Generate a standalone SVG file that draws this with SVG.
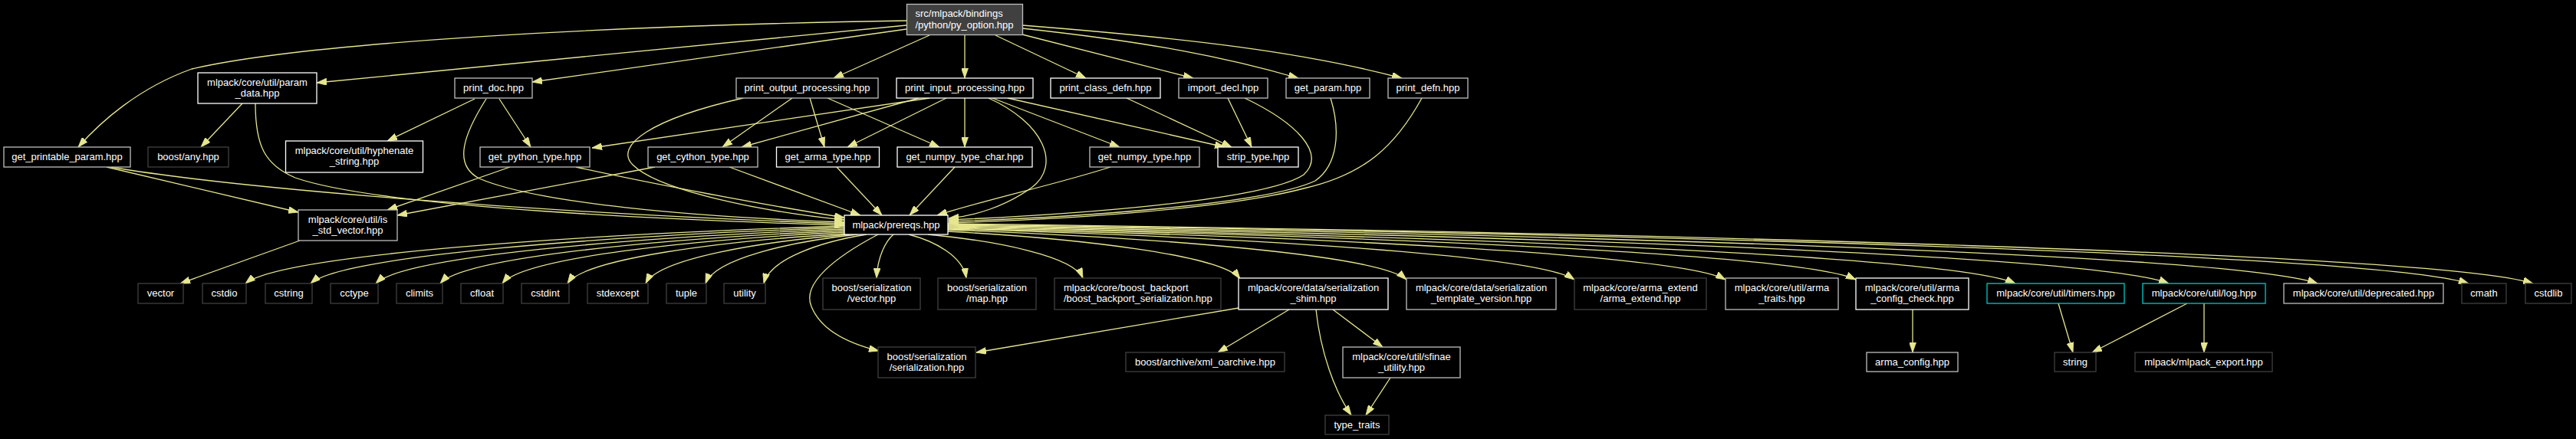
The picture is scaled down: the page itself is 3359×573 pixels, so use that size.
<svg xmlns="http://www.w3.org/2000/svg" width="3359" height="573" viewBox="0 0 3359 573">
<style>
.n rect{fill:#000;stroke-width:1.3}
.w rect{stroke:#ffffff}
.g rect{stroke:#bfbfbf}
.d rect{stroke:#404040}
.c rect{stroke:#00c8c8}
.r rect{fill:#404040;stroke:#bfbfbf}
text{font-family:"Liberation Sans",Arial,Helvetica,sans-serif;font-size:13px;fill:#ffffff;text-anchor:middle}
text.l{text-anchor:start}
.e path{fill:none;stroke:#e6e68f;stroke-width:1.3;marker-end:url(#ah)}
</style>
<defs>
<marker id="ah" markerWidth="13" markerHeight="9" refX="13" refY="4.5" orient="auto" markerUnits="userSpaceOnUse">
<path d="M0,0 L13,4.5 L0,9 z" fill="#e6e68f" stroke="#e6e68f" stroke-width="0.8"/>
</marker>
</defs>
<rect x="0" y="0" width="3359" height="573" fill="#000"/>

<g id="edges" class="e">
<path d="M1182,27 C 800,33 400,55 250,90 C 180,115 130,160 102,192"/>
<path d="M1182,33 L413,108"/>
<path d="M1182,38 L694,107"/>
<path d="M1212,46 L1087,102"/>
<path d="M1258,46 L1258,102"/>
<path d="M1298,46 L1416,102"/>
<path d="M1333,45 L1556,102"/>
<path d="M1333,37 C 1500,55 1600,75 1693,102"/>
<path d="M1333,33 C 1550,50 1700,68 1828,102"/>
<path d="M316,135 L262,192"/>
<path d="M333,135 C 333,190 345,215 385,232 C 500,272 900,288 1101,294"/>
<path d="M139,218 L389,277"/>
<path d="M145,218 C 300,245 700,278 1101,292"/>
<path d="M619,129 L505,184"/>
<path d="M651,129 L692,192"/>
<path d="M634,129 C 605,175 590,215 625,233 C 700,265 900,283 1101,290"/>
<path d="M969,128 C 850,155 800,190 825,215 C 860,250 1000,277 1101,287"/>
<path d="M1033,128 L942,192"/>
<path d="M1056,128 L1075,192"/>
<path d="M1079,128 L1225,192"/>
<path d="M1212,128 L772,193"/>
<path d="M1198,128 L967,192"/>
<path d="M1234,128 L1105,192"/>
<path d="M1258,128 L1258,192"/>
<path d="M1289,128 C 1360,160 1385,215 1345,245 C 1310,270 1270,282 1237,285"/>
<path d="M1294,128 L1460,192"/>
<path d="M1314,128 L1597,192"/>
<path d="M1469,128 L1606,192"/>
<path d="M1601,128 L1632,192"/>
<path d="M1623,128 C 1690,160 1730,200 1700,228 C 1650,262 1400,280 1237,287"/>
<path d="M1735,128 C 1748,170 1745,215 1715,236 C 1650,267 1400,284 1237,289"/>
<path d="M1854,128 C 1820,190 1780,228 1700,246 C 1600,272 1400,286 1237,291"/>
<path d="M665,218 L505,274"/>
<path d="M751,218 C 850,240 1000,268 1101,284"/>
<path d="M854,218 L518,281"/>
<path d="M951,218 L1122,281"/>
<path d="M1091,218 L1150,281"/>
<path d="M1245,218 L1186,281"/>
<path d="M1448,218 C 1380,240 1280,262 1222,281"/>
<path d="M391,314 L235,370"/>
<path d="M1101,295 C 749.5,306.3 366.9,332.5 320,370"/>
<path d="M1101,297 C 787.8,308 446.8,333.5 405,370"/>
<path d="M1101,299 C 826,309.7 526.7,334.5 490,370"/>
<path d="M1101,301 C 863.9,311.4 605.6,335.5 574,370"/>
<path d="M1101,303 C 900.3,313 681.8,336.5 655,370"/>
<path d="M1102,305 C 939.1,314.8 761.7,337.5 740,370"/>
<path d="M1108,306 C 988.3,315.6 858,338 842,370"/>
<path d="M1118,306 C 1028.9,315.6 931.9,338 920,370"/>
<path d="M1130,306 C 1069.7,315.6 1004,338 996,370"/>
<path d="M1145,306 C 1090,335 1045,370 1058,400 C 1070,430 1105,448 1146,458"/>
<path d="M1165,306 C 1155.1,314.6 1144.3,334.5 1143,363"/>
<path d="M1185,306 C 1218.8,314.6 1255.5,334.5 1260,363"/>
<path d="M1210,306 C 1300.9,314.6 1399.9,334.5 1412,363"/>
<path d="M1236,302 C 1407.5,311.3 1594,333 1617,364"/>
<path d="M1236,300 C 1505.1,309.8 1798.1,332.5 1834,365"/>
<path d="M1236,299 C 1603.7,308.9 2004,332 2053,365"/>
<path d="M1236,298 C 1692.3,308 2189.2,331.5 2250,365"/>
<path d="M1236,297 C 1768.8,307.2 2349,331 2420,365"/>
<path d="M1236,296 C 1862.4,307.1 2544.5,333 2628,370"/>
<path d="M1236,295 C 1952.4,306.3 2732.5,332.5 2828,370"/>
<path d="M1236,294 C 2039.7,305.4 2914.8,332 3022,370"/>
<path d="M1236,293 C 2128.4,304.6 3100,331.5 3219,370"/>
<path d="M1236,292 C 2166.2,303.7 3179,331 3303,370"/>
<path d="M1615,402 L1273,460"/>
<path d="M1681,404 L1588,460"/>
<path d="M1716,404 C 1722,460 1740,510 1762,542"/>
<path d="M1738,404 L1803,453"/>
<path d="M1813,493 L1781,542"/>
<path d="M2494,404 L2494,460"/>
<path d="M2684,396 L2703,460"/>
<path d="M2852,396 L2728,460"/>
<path d="M2874,396 L2874,460"/>
</g>

<g id="n0" class="n r"><rect x="1182.5" y="5.5" width="151" height="40"/><text class="l" x="1193.5" y="22">src/mlpack/bindings</text><text class="l" x="1193.5" y="37">/python/py_option.hpp</text></g>
<g id="n1" class="n w"><rect x="258" y="95" width="155" height="40"/><text x="335.5" y="112">mlpack/core/util/param</text><text x="335.5" y="126">_data.hpp</text></g>
<g id="n2" class="n g"><rect x="593" y="102" width="101" height="26"/><text x="643.5" y="119">print_doc.hpp</text></g>
<g id="n3" class="n g"><rect x="960" y="102" width="185" height="26"/><text x="1052.5" y="119">print_output_processing.hpp</text></g>
<g id="n4" class="n w"><rect x="1169" y="102" width="178" height="26"/><text x="1258" y="119">print_input_processing.hpp</text></g>
<g id="n5" class="n w"><rect x="1370" y="102" width="143" height="26"/><text x="1441.5" y="119">print_class_defn.hpp</text></g>
<g id="n6" class="n g"><rect x="1537" y="102" width="116" height="26"/><text x="1595" y="119">import_decl.hpp</text></g>
<g id="n7" class="n g"><rect x="1677" y="102" width="109" height="26"/><text x="1731.5" y="119">get_param.hpp</text></g>
<g id="n8" class="n g"><rect x="1810" y="102" width="104" height="26"/><text x="1862" y="119">print_defn.hpp</text></g>

<g id="n9" class="n g"><rect x="5" y="192" width="165" height="26"/><text x="87.5" y="209">get_printable_param.hpp</text></g>
<g id="n10" class="n d"><rect x="193" y="192" width="105" height="26"/><text x="245.5" y="209">boost/any.hpp</text></g>
<g id="n11" class="n w"><rect x="372.5" y="184" width="179" height="41"/><text x="462" y="201">mlpack/core/util/hyphenate</text><text x="462" y="215">_string.hpp</text></g>
<g id="n12" class="n g"><rect x="626" y="192" width="143" height="26"/><text x="697.5" y="209">get_python_type.hpp</text></g>
<g id="n13" class="n g"><rect x="845" y="192" width="143" height="26"/><text x="916.5" y="209">get_cython_type.hpp</text></g>
<g id="n14" class="n w"><rect x="1012.5" y="192" width="134" height="26"/><text x="1079.5" y="209">get_arma_type.hpp</text></g>
<g id="n15" class="n w"><rect x="1170" y="192" width="176" height="26"/><text x="1258" y="209">get_numpy_type_char.hpp</text></g>
<g id="n16" class="n g"><rect x="1421" y="192" width="143" height="26"/><text x="1492.5" y="209">get_numpy_type.hpp</text></g>
<g id="n17" class="n w"><rect x="1588" y="192" width="105" height="26"/><text x="1640.5" y="209">strip_type.hpp</text></g>

<g id="n18" class="n g"><rect x="389" y="274" width="129" height="40"/><text x="453.5" y="291">mlpack/core/util/is</text><text x="453.5" y="305">_std_vector.hpp</text></g>
<g id="n19" class="n w"><rect x="1101" y="281" width="135" height="25"/><text x="1168.5" y="297.5">mlpack/prereqs.hpp</text></g>

<g id="n20" class="n d"><rect x="180" y="370" width="59" height="26"/><text x="209.5" y="387">vector</text></g>
<g id="n21" class="n d"><rect x="264" y="370" width="57" height="26"/><text x="292.5" y="387">cstdio</text></g>
<g id="n22" class="n d"><rect x="346" y="370" width="61" height="26"/><text x="376.5" y="387">cstring</text></g>
<g id="n23" class="n d"><rect x="431" y="370" width="62" height="26"/><text x="462" y="387">cctype</text></g>
<g id="n24" class="n d"><rect x="517" y="370" width="60" height="26"/><text x="547" y="387">climits</text></g>
<g id="n25" class="n d"><rect x="601" y="370" width="55" height="26"/><text x="628.5" y="387">cfloat</text></g>
<g id="n26" class="n d"><rect x="680" y="370" width="62" height="26"/><text x="711" y="387">cstdint</text></g>
<g id="n27" class="n d"><rect x="766" y="370" width="79" height="26"/><text x="805.5" y="387">stdexcept</text></g>
<g id="n28" class="n d"><rect x="869" y="370" width="52" height="26"/><text x="895" y="387">tuple</text></g>
<g id="n29" class="n d"><rect x="944" y="370" width="54" height="26"/><text x="971" y="387">utility</text></g>
<g id="n30" class="n d"><rect x="1073" y="363" width="127" height="41"/><text x="1136.5" y="380">boost/serialization</text><text x="1136.5" y="394">/vector.hpp</text></g>
<g id="n31" class="n d"><rect x="1223" y="363" width="128" height="41"/><text x="1287" y="380">boost/serialization</text><text x="1287" y="394">/map.hpp</text></g>
<g id="n32" class="n d"><rect x="1375" y="363" width="217" height="41"/><text class="l" x="1387" y="380">mlpack/core/boost_backport</text><text class="l" x="1387" y="394">/boost_backport_serialization.hpp</text></g>
<g id="n33" class="n w"><rect x="1615" y="363" width="195" height="41"/><text x="1712.5" y="380">mlpack/core/data/serialization</text><text x="1712.5" y="394">_shim.hpp</text></g>
<g id="n34" class="n g"><rect x="1834" y="363" width="195" height="41"/><text x="1931.5" y="380">mlpack/core/data/serialization</text><text x="1931.5" y="394">_template_version.hpp</text></g>
<g id="n35" class="n d"><rect x="2053" y="363" width="172" height="41"/><text x="2139" y="380">mlpack/core/arma_extend</text><text x="2139" y="394">/arma_extend.hpp</text></g>
<g id="n36" class="n g"><rect x="2250" y="363" width="147" height="41"/><text x="2323.5" y="380">mlpack/core/util/arma</text><text x="2323.5" y="394">_traits.hpp</text></g>
<g id="n37" class="n w"><rect x="2420" y="363" width="147" height="41"/><text x="2493.5" y="380">mlpack/core/util/arma</text><text x="2493.5" y="394">_config_check.hpp</text></g>
<g id="n38" class="n c"><rect x="2591" y="370" width="179" height="26"/><text x="2680.5" y="387">mlpack/core/util/timers.hpp</text></g>
<g id="n39" class="n c"><rect x="2794" y="370" width="160" height="26"/><text x="2874" y="387">mlpack/core/util/log.hpp</text></g>
<g id="n40" class="n g"><rect x="2978" y="370" width="208" height="26"/><text x="3082" y="387">mlpack/core/util/deprecated.hpp</text></g>
<g id="n41" class="n d"><rect x="3210" y="370" width="58" height="26"/><text x="3239" y="387">cmath</text></g>
<g id="n42" class="n d"><rect x="3293" y="370" width="60" height="26"/><text x="3323" y="387">cstdlib</text></g>

<g id="n43" class="n d"><rect x="1145" y="453" width="127" height="40"/><text x="1208.5" y="470">boost/serialization</text><text x="1208.5" y="484">/serialization.hpp</text></g>
<g id="n44" class="n d"><rect x="1468" y="460" width="207" height="25"/><text x="1571.5" y="477">boost/archive/xml_oarchive.hpp</text></g>
<g id="n45" class="n g"><rect x="1751" y="453" width="153" height="40"/><text x="1827.5" y="470">mlpack/core/util/sfinae</text><text x="1827.5" y="484">_utility.hpp</text></g>
<g id="n46" class="n g"><rect x="2434" y="460" width="119" height="25"/><text x="2493.5" y="477">arma_config.hpp</text></g>
<g id="n47" class="n d"><rect x="2679" y="460" width="54" height="25"/><text x="2706" y="477">string</text></g>
<g id="n48" class="n d"><rect x="2784" y="460" width="179" height="25"/><text x="2873.5" y="477">mlpack/mlpack_export.hpp</text></g>
<g id="n49" class="n d"><rect x="1728" y="542" width="83" height="25"/><text x="1769.5" y="559">type_traits</text></g>
</svg>
